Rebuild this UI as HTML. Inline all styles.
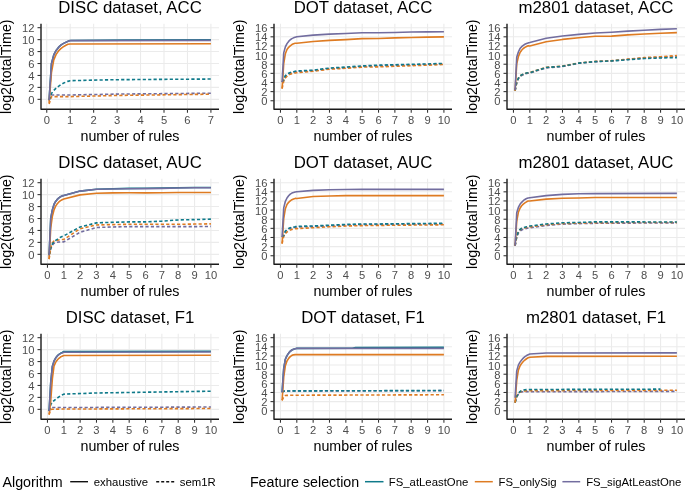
<!DOCTYPE html><html><head><meta charset="utf-8"><style>html,body{margin:0;padding:0;background:#fff;width:685px;height:490px;overflow:hidden}svg{display:block;will-change:transform}text{font-family:"Liberation Sans", sans-serif}</style></head><body>
<svg width="685" height="490" viewBox="0 0 685 490">
<rect width="685" height="490" fill="#fff"/>
<g>
<line x1="46.75" y1="23.8" x2="46.75" y2="109.2" stroke="#ebebeb" stroke-width="1.07"/>
<line x1="70.2" y1="23.8" x2="70.2" y2="109.2" stroke="#ebebeb" stroke-width="1.07"/>
<line x1="93.65" y1="23.8" x2="93.65" y2="109.2" stroke="#ebebeb" stroke-width="1.07"/>
<line x1="117.1" y1="23.8" x2="117.1" y2="109.2" stroke="#ebebeb" stroke-width="1.07"/>
<line x1="140.55" y1="23.8" x2="140.55" y2="109.2" stroke="#ebebeb" stroke-width="1.07"/>
<line x1="164.01" y1="23.8" x2="164.01" y2="109.2" stroke="#ebebeb" stroke-width="1.07"/>
<line x1="187.46" y1="23.8" x2="187.46" y2="109.2" stroke="#ebebeb" stroke-width="1.07"/>
<line x1="210.91" y1="23.8" x2="210.91" y2="109.2" stroke="#ebebeb" stroke-width="1.07"/>
<line x1="41" y1="99.35" x2="219" y2="99.35" stroke="#ebebeb" stroke-width="1.07"/>
<line x1="41" y1="87.4" x2="219" y2="87.4" stroke="#ebebeb" stroke-width="1.07"/>
<line x1="41" y1="75.46" x2="219" y2="75.46" stroke="#ebebeb" stroke-width="1.07"/>
<line x1="41" y1="63.51" x2="219" y2="63.51" stroke="#ebebeb" stroke-width="1.07"/>
<line x1="41" y1="51.57" x2="219" y2="51.57" stroke="#ebebeb" stroke-width="1.07"/>
<line x1="41" y1="39.63" x2="219" y2="39.63" stroke="#ebebeb" stroke-width="1.07"/>
<line x1="41" y1="27.68" x2="219" y2="27.68" stroke="#ebebeb" stroke-width="1.07"/>
<polyline points="49.09,100.3 51.44,94.99 53.78,94.99 56.13,94.99 58.47,94.99 60.82,94.99 63.16,94.99 65.51,94.99 67.85,94.99 70.2,94.99 117.1,94.09 210.91,93.19" fill="none" stroke="#726d9f" stroke-width="1.6" stroke-linejoin="round" stroke-dasharray="3.2 2.2"/>
<polyline points="49.09,103.94 51.44,96.6 53.78,96.6 56.13,96.6 58.47,96.6 60.82,96.6 63.16,96.6 65.51,96.6 67.85,96.6 70.2,96.6 117.1,95.46 210.91,94.21" fill="none" stroke="#de7b22" stroke-width="1.6" stroke-linejoin="round" stroke-dasharray="3.2 2.2"/>
<polyline points="49.09,99.94 51.44,93.49 53.78,90.44 56.13,88.19 58.47,86.32 60.82,84.72 63.16,83.33 65.51,82.25 67.85,81.37 70.2,80.71 93.65,80.12 117.1,79.7 164.01,79.34 210.91,79.04" fill="none" stroke="#0f7a8a" stroke-width="1.6" stroke-linejoin="round" stroke-dasharray="3.2 2.2"/>
<polyline points="49.09,100.3 51.44,63.79 53.78,54.91 56.13,50.43 58.47,47.39 60.82,45.2 63.16,43.66 65.51,42.41 67.85,41.36 70.2,40.46 124.14,40.1 210.91,39.69" fill="none" stroke="#0f7a8a" stroke-width="1.6" stroke-linejoin="round"/>
<polyline points="49.09,102.93 51.44,72.63 53.78,59.84 56.13,54.39 58.47,51.05 60.82,48.64 63.16,46.88 65.51,45.48 67.85,44.33 70.2,43.99 210.91,43.81" fill="none" stroke="#de7b22" stroke-width="1.6" stroke-linejoin="round"/>
<polyline points="49.09,100.3 51.44,63.79 53.78,54.91 56.13,50.43 58.47,47.39 60.82,45.2 63.16,43.66 65.51,42.4 67.85,41.37 70.2,40.58 210.91,40.4" fill="none" stroke="#726d9f" stroke-width="1.6" stroke-linejoin="round"/>
<path d="M41 23.8V109.2H219" fill="none" stroke="#1a1a1a" stroke-width="1.4" stroke-linejoin="round" stroke-linecap="butt"/>
<line x1="46.75" y1="109.2" x2="46.75" y2="112.7" stroke="#333" stroke-width="1.07"/>
<text x="46.75" y="124.2" font-size="11.2" fill="#4d4d4d" text-anchor="middle">0</text>
<line x1="70.2" y1="109.2" x2="70.2" y2="112.7" stroke="#333" stroke-width="1.07"/>
<text x="70.2" y="124.2" font-size="11.2" fill="#4d4d4d" text-anchor="middle">1</text>
<line x1="93.65" y1="109.2" x2="93.65" y2="112.7" stroke="#333" stroke-width="1.07"/>
<text x="93.65" y="124.2" font-size="11.2" fill="#4d4d4d" text-anchor="middle">2</text>
<line x1="117.1" y1="109.2" x2="117.1" y2="112.7" stroke="#333" stroke-width="1.07"/>
<text x="117.1" y="124.2" font-size="11.2" fill="#4d4d4d" text-anchor="middle">3</text>
<line x1="140.55" y1="109.2" x2="140.55" y2="112.7" stroke="#333" stroke-width="1.07"/>
<text x="140.55" y="124.2" font-size="11.2" fill="#4d4d4d" text-anchor="middle">4</text>
<line x1="164.01" y1="109.2" x2="164.01" y2="112.7" stroke="#333" stroke-width="1.07"/>
<text x="164.01" y="124.2" font-size="11.2" fill="#4d4d4d" text-anchor="middle">5</text>
<line x1="187.46" y1="109.2" x2="187.46" y2="112.7" stroke="#333" stroke-width="1.07"/>
<text x="187.46" y="124.2" font-size="11.2" fill="#4d4d4d" text-anchor="middle">6</text>
<line x1="210.91" y1="109.2" x2="210.91" y2="112.7" stroke="#333" stroke-width="1.07"/>
<text x="210.91" y="124.2" font-size="11.2" fill="#4d4d4d" text-anchor="middle">7</text>
<line x1="37.5" y1="99.35" x2="41" y2="99.35" stroke="#333" stroke-width="1.07"/>
<text x="34.5" y="103.85" font-size="11.2" fill="#4d4d4d" text-anchor="end">0</text>
<line x1="37.5" y1="87.4" x2="41" y2="87.4" stroke="#333" stroke-width="1.07"/>
<text x="34.5" y="91.9" font-size="11.2" fill="#4d4d4d" text-anchor="end">2</text>
<line x1="37.5" y1="75.46" x2="41" y2="75.46" stroke="#333" stroke-width="1.07"/>
<text x="34.5" y="79.96" font-size="11.2" fill="#4d4d4d" text-anchor="end">4</text>
<line x1="37.5" y1="63.51" x2="41" y2="63.51" stroke="#333" stroke-width="1.07"/>
<text x="34.5" y="68.01" font-size="11.2" fill="#4d4d4d" text-anchor="end">6</text>
<line x1="37.5" y1="51.57" x2="41" y2="51.57" stroke="#333" stroke-width="1.07"/>
<text x="34.5" y="56.07" font-size="11.2" fill="#4d4d4d" text-anchor="end">8</text>
<line x1="37.5" y1="39.63" x2="41" y2="39.63" stroke="#333" stroke-width="1.07"/>
<text x="34.5" y="44.13" font-size="11.2" fill="#4d4d4d" text-anchor="end">10</text>
<line x1="37.5" y1="27.68" x2="41" y2="27.68" stroke="#333" stroke-width="1.07"/>
<text x="34.5" y="32.18" font-size="11.2" fill="#4d4d4d" text-anchor="end">12</text>
<text x="130" y="13.1" font-size="16.8" fill="#000" text-anchor="middle">DISC dataset, ACC</text>
<text x="130" y="141.2" font-size="14.25" fill="#000" text-anchor="middle">number of rules</text>
<text transform="translate(10.5 66.7) rotate(-90)" font-size="14.25" fill="#000" text-anchor="middle">log2(totalTime)</text>
</g>
<g>
<line x1="280.46" y1="23.8" x2="280.46" y2="109.2" stroke="#ebebeb" stroke-width="1.07"/>
<line x1="296.8" y1="23.8" x2="296.8" y2="109.2" stroke="#ebebeb" stroke-width="1.07"/>
<line x1="313.15" y1="23.8" x2="313.15" y2="109.2" stroke="#ebebeb" stroke-width="1.07"/>
<line x1="329.49" y1="23.8" x2="329.49" y2="109.2" stroke="#ebebeb" stroke-width="1.07"/>
<line x1="345.84" y1="23.8" x2="345.84" y2="109.2" stroke="#ebebeb" stroke-width="1.07"/>
<line x1="362.18" y1="23.8" x2="362.18" y2="109.2" stroke="#ebebeb" stroke-width="1.07"/>
<line x1="378.53" y1="23.8" x2="378.53" y2="109.2" stroke="#ebebeb" stroke-width="1.07"/>
<line x1="394.87" y1="23.8" x2="394.87" y2="109.2" stroke="#ebebeb" stroke-width="1.07"/>
<line x1="411.22" y1="23.8" x2="411.22" y2="109.2" stroke="#ebebeb" stroke-width="1.07"/>
<line x1="427.56" y1="23.8" x2="427.56" y2="109.2" stroke="#ebebeb" stroke-width="1.07"/>
<line x1="443.91" y1="23.8" x2="443.91" y2="109.2" stroke="#ebebeb" stroke-width="1.07"/>
<line x1="274" y1="100.75" x2="452" y2="100.75" stroke="#ebebeb" stroke-width="1.07"/>
<line x1="274" y1="91.62" x2="452" y2="91.62" stroke="#ebebeb" stroke-width="1.07"/>
<line x1="274" y1="82.48" x2="452" y2="82.48" stroke="#ebebeb" stroke-width="1.07"/>
<line x1="274" y1="73.35" x2="452" y2="73.35" stroke="#ebebeb" stroke-width="1.07"/>
<line x1="274" y1="64.22" x2="452" y2="64.22" stroke="#ebebeb" stroke-width="1.07"/>
<line x1="274" y1="55.08" x2="452" y2="55.08" stroke="#ebebeb" stroke-width="1.07"/>
<line x1="274" y1="45.95" x2="452" y2="45.95" stroke="#ebebeb" stroke-width="1.07"/>
<line x1="274" y1="36.82" x2="452" y2="36.82" stroke="#ebebeb" stroke-width="1.07"/>
<line x1="274" y1="27.68" x2="452" y2="27.68" stroke="#ebebeb" stroke-width="1.07"/>
<polyline points="282.09,82.16 283.73,80.34 285.36,76.12 286.99,74.67 288.63,73.77 290.26,73.12 291.9,72.61 293.53,72.21 295.17,71.88 296.8,71.61 313.15,70.61 329.49,68.56 345.84,67.64 362.18,66.5 378.53,65.81 394.87,65.36 411.22,64.9 427.56,64.44 443.91,63.85" fill="none" stroke="#726d9f" stroke-width="1.6" stroke-linejoin="round" stroke-dasharray="3.2 2.2"/>
<polyline points="282.09,88.56 283.73,81.14 285.36,78.01 286.99,76.25 288.63,74.97 290.26,74.11 291.9,73.62 293.53,73.29 295.17,73.01 296.8,72.71 313.15,71.3 329.49,69.19 345.84,68.28 362.18,67.09 378.53,66.87 394.87,66.27 411.22,65.72 427.56,65.13 443.91,64.54" fill="none" stroke="#de7b22" stroke-width="1.6" stroke-linejoin="round" stroke-dasharray="3.2 2.2"/>
<polyline points="282.09,82.16 283.73,79.84 285.36,75.66 286.99,74.19 288.63,73.28 290.26,72.61 291.9,72.1 293.53,71.69 295.17,71.31 296.8,70.98 313.15,70.15 329.49,68.05 345.84,67.09 362.18,65.95 378.53,65.13 394.87,64.76 411.22,64.31 427.56,63.94 443.91,63.39" fill="none" stroke="#0f7a8a" stroke-width="1.6" stroke-linejoin="round" stroke-dasharray="3.2 2.2"/>
<polyline points="282.09,88.56 283.73,63.52 285.36,53.73 286.99,49.57 288.63,47.34 290.26,45.83 291.9,44.59 293.53,43.79 295.17,43.24 296.8,43.21 313.15,41.52 329.49,40.38 345.84,39.65 362.18,38.6 378.53,38.51 394.87,37.91 411.22,37.45 427.56,37.09 443.91,36.86" fill="none" stroke="#de7b22" stroke-width="1.6" stroke-linejoin="round"/>
<polyline points="282.09,82.16 283.73,52.85 285.36,46.89 286.99,43.64 288.63,41.42 290.26,39.76 291.9,38.65 293.53,37.86 295.17,37.26 296.8,36.82 313.15,35.13 329.49,34.17 345.84,33.57 362.18,32.75 378.53,32.71 394.87,32.43 411.22,32.07 427.56,31.84 443.91,31.79" fill="none" stroke="#726d9f" stroke-width="1.6" stroke-linejoin="round"/>
<path d="M274 23.8V109.2H452" fill="none" stroke="#1a1a1a" stroke-width="1.4" stroke-linejoin="round" stroke-linecap="butt"/>
<line x1="280.46" y1="109.2" x2="280.46" y2="112.7" stroke="#333" stroke-width="1.07"/>
<text x="280.46" y="124.2" font-size="11.2" fill="#4d4d4d" text-anchor="middle">0</text>
<line x1="296.8" y1="109.2" x2="296.8" y2="112.7" stroke="#333" stroke-width="1.07"/>
<text x="296.8" y="124.2" font-size="11.2" fill="#4d4d4d" text-anchor="middle">1</text>
<line x1="313.15" y1="109.2" x2="313.15" y2="112.7" stroke="#333" stroke-width="1.07"/>
<text x="313.15" y="124.2" font-size="11.2" fill="#4d4d4d" text-anchor="middle">2</text>
<line x1="329.49" y1="109.2" x2="329.49" y2="112.7" stroke="#333" stroke-width="1.07"/>
<text x="329.49" y="124.2" font-size="11.2" fill="#4d4d4d" text-anchor="middle">3</text>
<line x1="345.84" y1="109.2" x2="345.84" y2="112.7" stroke="#333" stroke-width="1.07"/>
<text x="345.84" y="124.2" font-size="11.2" fill="#4d4d4d" text-anchor="middle">4</text>
<line x1="362.18" y1="109.2" x2="362.18" y2="112.7" stroke="#333" stroke-width="1.07"/>
<text x="362.18" y="124.2" font-size="11.2" fill="#4d4d4d" text-anchor="middle">5</text>
<line x1="378.53" y1="109.2" x2="378.53" y2="112.7" stroke="#333" stroke-width="1.07"/>
<text x="378.53" y="124.2" font-size="11.2" fill="#4d4d4d" text-anchor="middle">6</text>
<line x1="394.87" y1="109.2" x2="394.87" y2="112.7" stroke="#333" stroke-width="1.07"/>
<text x="394.87" y="124.2" font-size="11.2" fill="#4d4d4d" text-anchor="middle">7</text>
<line x1="411.22" y1="109.2" x2="411.22" y2="112.7" stroke="#333" stroke-width="1.07"/>
<text x="411.22" y="124.2" font-size="11.2" fill="#4d4d4d" text-anchor="middle">8</text>
<line x1="427.56" y1="109.2" x2="427.56" y2="112.7" stroke="#333" stroke-width="1.07"/>
<text x="427.56" y="124.2" font-size="11.2" fill="#4d4d4d" text-anchor="middle">9</text>
<line x1="443.91" y1="109.2" x2="443.91" y2="112.7" stroke="#333" stroke-width="1.07"/>
<text x="443.91" y="124.2" font-size="11.2" fill="#4d4d4d" text-anchor="middle">10</text>
<line x1="270.5" y1="100.75" x2="274" y2="100.75" stroke="#333" stroke-width="1.07"/>
<text x="267.5" y="105.25" font-size="11.2" fill="#4d4d4d" text-anchor="end">0</text>
<line x1="270.5" y1="91.62" x2="274" y2="91.62" stroke="#333" stroke-width="1.07"/>
<text x="267.5" y="96.12" font-size="11.2" fill="#4d4d4d" text-anchor="end">2</text>
<line x1="270.5" y1="82.48" x2="274" y2="82.48" stroke="#333" stroke-width="1.07"/>
<text x="267.5" y="86.98" font-size="11.2" fill="#4d4d4d" text-anchor="end">4</text>
<line x1="270.5" y1="73.35" x2="274" y2="73.35" stroke="#333" stroke-width="1.07"/>
<text x="267.5" y="77.85" font-size="11.2" fill="#4d4d4d" text-anchor="end">6</text>
<line x1="270.5" y1="64.22" x2="274" y2="64.22" stroke="#333" stroke-width="1.07"/>
<text x="267.5" y="68.72" font-size="11.2" fill="#4d4d4d" text-anchor="end">8</text>
<line x1="270.5" y1="55.08" x2="274" y2="55.08" stroke="#333" stroke-width="1.07"/>
<text x="267.5" y="59.58" font-size="11.2" fill="#4d4d4d" text-anchor="end">10</text>
<line x1="270.5" y1="45.95" x2="274" y2="45.95" stroke="#333" stroke-width="1.07"/>
<text x="267.5" y="50.45" font-size="11.2" fill="#4d4d4d" text-anchor="end">12</text>
<line x1="270.5" y1="36.82" x2="274" y2="36.82" stroke="#333" stroke-width="1.07"/>
<text x="267.5" y="41.32" font-size="11.2" fill="#4d4d4d" text-anchor="end">14</text>
<line x1="270.5" y1="27.68" x2="274" y2="27.68" stroke="#333" stroke-width="1.07"/>
<text x="267.5" y="32.18" font-size="11.2" fill="#4d4d4d" text-anchor="end">16</text>
<text x="363" y="13.1" font-size="16.8" fill="#000" text-anchor="middle">DOT dataset, ACC</text>
<text x="363" y="141.2" font-size="14.25" fill="#000" text-anchor="middle">number of rules</text>
<text transform="translate(243.5 66.7) rotate(-90)" font-size="14.25" fill="#000" text-anchor="middle">log2(totalTime)</text>
</g>
<g>
<line x1="513.46" y1="23.8" x2="513.46" y2="109.2" stroke="#ebebeb" stroke-width="1.07"/>
<line x1="529.8" y1="23.8" x2="529.8" y2="109.2" stroke="#ebebeb" stroke-width="1.07"/>
<line x1="546.15" y1="23.8" x2="546.15" y2="109.2" stroke="#ebebeb" stroke-width="1.07"/>
<line x1="562.49" y1="23.8" x2="562.49" y2="109.2" stroke="#ebebeb" stroke-width="1.07"/>
<line x1="578.84" y1="23.8" x2="578.84" y2="109.2" stroke="#ebebeb" stroke-width="1.07"/>
<line x1="595.18" y1="23.8" x2="595.18" y2="109.2" stroke="#ebebeb" stroke-width="1.07"/>
<line x1="611.53" y1="23.8" x2="611.53" y2="109.2" stroke="#ebebeb" stroke-width="1.07"/>
<line x1="627.87" y1="23.8" x2="627.87" y2="109.2" stroke="#ebebeb" stroke-width="1.07"/>
<line x1="644.22" y1="23.8" x2="644.22" y2="109.2" stroke="#ebebeb" stroke-width="1.07"/>
<line x1="660.56" y1="23.8" x2="660.56" y2="109.2" stroke="#ebebeb" stroke-width="1.07"/>
<line x1="676.91" y1="23.8" x2="676.91" y2="109.2" stroke="#ebebeb" stroke-width="1.07"/>
<line x1="507" y1="100.75" x2="685" y2="100.75" stroke="#ebebeb" stroke-width="1.07"/>
<line x1="507" y1="91.62" x2="685" y2="91.62" stroke="#ebebeb" stroke-width="1.07"/>
<line x1="507" y1="82.48" x2="685" y2="82.48" stroke="#ebebeb" stroke-width="1.07"/>
<line x1="507" y1="73.35" x2="685" y2="73.35" stroke="#ebebeb" stroke-width="1.07"/>
<line x1="507" y1="64.22" x2="685" y2="64.22" stroke="#ebebeb" stroke-width="1.07"/>
<line x1="507" y1="55.08" x2="685" y2="55.08" stroke="#ebebeb" stroke-width="1.07"/>
<line x1="507" y1="45.95" x2="685" y2="45.95" stroke="#ebebeb" stroke-width="1.07"/>
<line x1="507" y1="36.82" x2="685" y2="36.82" stroke="#ebebeb" stroke-width="1.07"/>
<line x1="507" y1="27.68" x2="685" y2="27.68" stroke="#ebebeb" stroke-width="1.07"/>
<polyline points="515.09,90.7 516.73,82.52 518.36,78.71 519.99,76.57 521.63,75.46 523.26,74.72 524.9,74.08 526.53,73.54 528.17,73.25 529.8,73.12 546.15,67.87 562.49,66.5 578.84,63.3 595.18,61.7 611.53,60.93 627.87,59.42 644.22,58.05 660.56,57.37 676.91,56.64" fill="none" stroke="#726d9f" stroke-width="1.6" stroke-linejoin="round" stroke-dasharray="3.2 2.2"/>
<polyline points="515.09,90.7 516.73,82.19 518.36,78.21 519.99,75.97 521.63,74.88 523.26,74.17 524.9,73.57 526.53,73.07 528.17,72.7 529.8,72.44 546.15,67.41 562.49,66.04 578.84,62.94 595.18,61.39 611.53,60.65 627.87,59.1 644.22,57.59 660.56,56.77 676.91,55.63" fill="none" stroke="#de7b22" stroke-width="1.6" stroke-linejoin="round" stroke-dasharray="3.2 2.2"/>
<polyline points="515.09,90.7 516.73,82.19 518.36,78.21 519.99,75.97 521.63,74.88 523.26,74.17 524.9,73.54 526.53,73 528.17,72.78 529.8,72.71 546.15,67.46 562.49,66.27 578.84,63.12 595.18,61.61 611.53,60.88 627.87,59.7 644.22,58.55 660.56,57.96 676.91,57.59" fill="none" stroke="#0f7a8a" stroke-width="1.6" stroke-linejoin="round" stroke-dasharray="3.2 2.2"/>
<polyline points="515.09,90.7 516.73,63.88 518.36,56.73 519.99,52.67 521.63,50.21 523.26,48.49 524.9,47.36 526.53,46.51 528.17,45.67 529.8,45.95 546.15,41.75 562.49,39.42 578.84,37.68 595.18,36.27 611.53,36.13 627.87,34.85 644.22,34.03 660.56,33.21 676.91,32.61" fill="none" stroke="#de7b22" stroke-width="1.6" stroke-linejoin="round"/>
<polyline points="515.09,90.02 516.73,57.27 518.36,52 519.99,48.58 521.63,46.72 523.26,45.34 524.9,44.26 526.53,43.46 528.17,42.88 529.8,42.57 546.15,38.28 562.49,35.95 578.84,34.4 595.18,33.03 611.53,32.25 627.87,31.11 644.22,30.28 660.56,29.33 676.91,28.78" fill="none" stroke="#726d9f" stroke-width="1.6" stroke-linejoin="round"/>
<path d="M507 23.8V109.2H685" fill="none" stroke="#1a1a1a" stroke-width="1.4" stroke-linejoin="round" stroke-linecap="butt"/>
<line x1="513.46" y1="109.2" x2="513.46" y2="112.7" stroke="#333" stroke-width="1.07"/>
<text x="513.46" y="124.2" font-size="11.2" fill="#4d4d4d" text-anchor="middle">0</text>
<line x1="529.8" y1="109.2" x2="529.8" y2="112.7" stroke="#333" stroke-width="1.07"/>
<text x="529.8" y="124.2" font-size="11.2" fill="#4d4d4d" text-anchor="middle">1</text>
<line x1="546.15" y1="109.2" x2="546.15" y2="112.7" stroke="#333" stroke-width="1.07"/>
<text x="546.15" y="124.2" font-size="11.2" fill="#4d4d4d" text-anchor="middle">2</text>
<line x1="562.49" y1="109.2" x2="562.49" y2="112.7" stroke="#333" stroke-width="1.07"/>
<text x="562.49" y="124.2" font-size="11.2" fill="#4d4d4d" text-anchor="middle">3</text>
<line x1="578.84" y1="109.2" x2="578.84" y2="112.7" stroke="#333" stroke-width="1.07"/>
<text x="578.84" y="124.2" font-size="11.2" fill="#4d4d4d" text-anchor="middle">4</text>
<line x1="595.18" y1="109.2" x2="595.18" y2="112.7" stroke="#333" stroke-width="1.07"/>
<text x="595.18" y="124.2" font-size="11.2" fill="#4d4d4d" text-anchor="middle">5</text>
<line x1="611.53" y1="109.2" x2="611.53" y2="112.7" stroke="#333" stroke-width="1.07"/>
<text x="611.53" y="124.2" font-size="11.2" fill="#4d4d4d" text-anchor="middle">6</text>
<line x1="627.87" y1="109.2" x2="627.87" y2="112.7" stroke="#333" stroke-width="1.07"/>
<text x="627.87" y="124.2" font-size="11.2" fill="#4d4d4d" text-anchor="middle">7</text>
<line x1="644.22" y1="109.2" x2="644.22" y2="112.7" stroke="#333" stroke-width="1.07"/>
<text x="644.22" y="124.2" font-size="11.2" fill="#4d4d4d" text-anchor="middle">8</text>
<line x1="660.56" y1="109.2" x2="660.56" y2="112.7" stroke="#333" stroke-width="1.07"/>
<text x="660.56" y="124.2" font-size="11.2" fill="#4d4d4d" text-anchor="middle">9</text>
<line x1="676.91" y1="109.2" x2="676.91" y2="112.7" stroke="#333" stroke-width="1.07"/>
<text x="676.91" y="124.2" font-size="11.2" fill="#4d4d4d" text-anchor="middle">10</text>
<line x1="503.5" y1="100.75" x2="507" y2="100.75" stroke="#333" stroke-width="1.07"/>
<text x="500.5" y="105.25" font-size="11.2" fill="#4d4d4d" text-anchor="end">0</text>
<line x1="503.5" y1="91.62" x2="507" y2="91.62" stroke="#333" stroke-width="1.07"/>
<text x="500.5" y="96.12" font-size="11.2" fill="#4d4d4d" text-anchor="end">2</text>
<line x1="503.5" y1="82.48" x2="507" y2="82.48" stroke="#333" stroke-width="1.07"/>
<text x="500.5" y="86.98" font-size="11.2" fill="#4d4d4d" text-anchor="end">4</text>
<line x1="503.5" y1="73.35" x2="507" y2="73.35" stroke="#333" stroke-width="1.07"/>
<text x="500.5" y="77.85" font-size="11.2" fill="#4d4d4d" text-anchor="end">6</text>
<line x1="503.5" y1="64.22" x2="507" y2="64.22" stroke="#333" stroke-width="1.07"/>
<text x="500.5" y="68.72" font-size="11.2" fill="#4d4d4d" text-anchor="end">8</text>
<line x1="503.5" y1="55.08" x2="507" y2="55.08" stroke="#333" stroke-width="1.07"/>
<text x="500.5" y="59.58" font-size="11.2" fill="#4d4d4d" text-anchor="end">10</text>
<line x1="503.5" y1="45.95" x2="507" y2="45.95" stroke="#333" stroke-width="1.07"/>
<text x="500.5" y="50.45" font-size="11.2" fill="#4d4d4d" text-anchor="end">12</text>
<line x1="503.5" y1="36.82" x2="507" y2="36.82" stroke="#333" stroke-width="1.07"/>
<text x="500.5" y="41.32" font-size="11.2" fill="#4d4d4d" text-anchor="end">14</text>
<line x1="503.5" y1="27.68" x2="507" y2="27.68" stroke="#333" stroke-width="1.07"/>
<text x="500.5" y="32.18" font-size="11.2" fill="#4d4d4d" text-anchor="end">16</text>
<text x="596" y="13.1" font-size="16.8" fill="#000" text-anchor="middle">m2801 dataset, ACC</text>
<text x="596" y="141.2" font-size="14.25" fill="#000" text-anchor="middle">number of rules</text>
<text transform="translate(476.5 66.7) rotate(-90)" font-size="14.25" fill="#000" text-anchor="middle">log2(totalTime)</text>
</g>
<g>
<line x1="47.46" y1="178.8" x2="47.46" y2="264.2" stroke="#ebebeb" stroke-width="1.07"/>
<line x1="63.8" y1="178.8" x2="63.8" y2="264.2" stroke="#ebebeb" stroke-width="1.07"/>
<line x1="80.15" y1="178.8" x2="80.15" y2="264.2" stroke="#ebebeb" stroke-width="1.07"/>
<line x1="96.49" y1="178.8" x2="96.49" y2="264.2" stroke="#ebebeb" stroke-width="1.07"/>
<line x1="112.84" y1="178.8" x2="112.84" y2="264.2" stroke="#ebebeb" stroke-width="1.07"/>
<line x1="129.18" y1="178.8" x2="129.18" y2="264.2" stroke="#ebebeb" stroke-width="1.07"/>
<line x1="145.53" y1="178.8" x2="145.53" y2="264.2" stroke="#ebebeb" stroke-width="1.07"/>
<line x1="161.87" y1="178.8" x2="161.87" y2="264.2" stroke="#ebebeb" stroke-width="1.07"/>
<line x1="178.22" y1="178.8" x2="178.22" y2="264.2" stroke="#ebebeb" stroke-width="1.07"/>
<line x1="194.56" y1="178.8" x2="194.56" y2="264.2" stroke="#ebebeb" stroke-width="1.07"/>
<line x1="210.91" y1="178.8" x2="210.91" y2="264.2" stroke="#ebebeb" stroke-width="1.07"/>
<line x1="41" y1="254.35" x2="219" y2="254.35" stroke="#ebebeb" stroke-width="1.07"/>
<line x1="41" y1="242.4" x2="219" y2="242.4" stroke="#ebebeb" stroke-width="1.07"/>
<line x1="41" y1="230.46" x2="219" y2="230.46" stroke="#ebebeb" stroke-width="1.07"/>
<line x1="41" y1="218.51" x2="219" y2="218.51" stroke="#ebebeb" stroke-width="1.07"/>
<line x1="41" y1="206.57" x2="219" y2="206.57" stroke="#ebebeb" stroke-width="1.07"/>
<line x1="41" y1="194.63" x2="219" y2="194.63" stroke="#ebebeb" stroke-width="1.07"/>
<line x1="41" y1="182.68" x2="219" y2="182.68" stroke="#ebebeb" stroke-width="1.07"/>
<polyline points="49.09,255.18 50.73,248.8 52.36,245.19 53.99,243.34 55.63,242.67 57.26,242.2 58.9,241.95 60.53,241.92 62.17,241.92 63.8,241.92 80.15,232.19 96.49,227.53 112.84,226.93 129.18,226.64 194.56,226.64 210.91,226.4" fill="none" stroke="#726d9f" stroke-width="1.6" stroke-linejoin="round" stroke-dasharray="3.2 2.2"/>
<polyline points="49.09,259.12 50.73,248.01 52.36,242.87 53.99,241.12 55.63,240.53 57.26,240.18 58.9,239.93 60.53,239.69 62.17,239.51 63.8,239.42 80.15,228.73 96.49,224.96 112.84,224.61 129.18,224.31 178.22,224.31 194.56,224.07 210.91,223.83" fill="none" stroke="#de7b22" stroke-width="1.6" stroke-linejoin="round" stroke-dasharray="3.2 2.2"/>
<polyline points="49.09,255.18 50.73,247.85 52.36,243.9 53.99,241.7 55.63,240.36 57.26,239.31 58.9,238.24 60.53,237.24 62.17,236.42 63.8,235.83 80.15,226.93 96.49,222.87 112.84,222.28 129.18,221.92 145.53,221.92 161.87,221.14 178.22,219.95 194.56,219.59 210.91,219.11" fill="none" stroke="#0f7a8a" stroke-width="1.6" stroke-linejoin="round" stroke-dasharray="3.2 2.2"/>
<polyline points="49.09,255.18 50.73,218.51 52.36,209.87 53.99,204.47 55.63,201.48 57.26,199.43 58.9,197.88 60.53,196.72 62.17,195.88 63.8,195.4 80.15,191.1 96.49,189.25 112.84,188.77 129.18,188.41 145.53,188.3 161.87,188.06 178.22,187.7 194.56,187.46 210.91,187.46" fill="none" stroke="#0f7a8a" stroke-width="1.6" stroke-linejoin="round"/>
<polyline points="49.09,259.12 50.73,227.92 52.36,216.38 53.99,210 55.63,206.13 57.26,203.73 58.9,201.98 60.53,200.68 62.17,199.72 63.8,199.1 80.15,194.86 96.49,193.31 112.84,192.83 129.18,192.71 145.53,192.83 161.87,192.71 178.22,192.54 210.91,192.54" fill="none" stroke="#de7b22" stroke-width="1.6" stroke-linejoin="round"/>
<polyline points="49.09,255.18 50.73,218.51 52.36,209.87 53.99,204.47 55.63,201.48 57.26,199.43 58.9,197.88 60.53,196.72 62.17,195.88 63.8,195.4 80.15,191.1 96.49,189.25 112.84,189.01 129.18,188.77 145.53,188.65 161.87,188.41 178.22,188.06 194.56,187.82 210.91,187.82" fill="none" stroke="#726d9f" stroke-width="1.6" stroke-linejoin="round"/>
<path d="M41 178.8V264.2H219" fill="none" stroke="#1a1a1a" stroke-width="1.4" stroke-linejoin="round" stroke-linecap="butt"/>
<line x1="47.46" y1="264.2" x2="47.46" y2="267.7" stroke="#333" stroke-width="1.07"/>
<text x="47.46" y="279.2" font-size="11.2" fill="#4d4d4d" text-anchor="middle">0</text>
<line x1="63.8" y1="264.2" x2="63.8" y2="267.7" stroke="#333" stroke-width="1.07"/>
<text x="63.8" y="279.2" font-size="11.2" fill="#4d4d4d" text-anchor="middle">1</text>
<line x1="80.15" y1="264.2" x2="80.15" y2="267.7" stroke="#333" stroke-width="1.07"/>
<text x="80.15" y="279.2" font-size="11.2" fill="#4d4d4d" text-anchor="middle">2</text>
<line x1="96.49" y1="264.2" x2="96.49" y2="267.7" stroke="#333" stroke-width="1.07"/>
<text x="96.49" y="279.2" font-size="11.2" fill="#4d4d4d" text-anchor="middle">3</text>
<line x1="112.84" y1="264.2" x2="112.84" y2="267.7" stroke="#333" stroke-width="1.07"/>
<text x="112.84" y="279.2" font-size="11.2" fill="#4d4d4d" text-anchor="middle">4</text>
<line x1="129.18" y1="264.2" x2="129.18" y2="267.7" stroke="#333" stroke-width="1.07"/>
<text x="129.18" y="279.2" font-size="11.2" fill="#4d4d4d" text-anchor="middle">5</text>
<line x1="145.53" y1="264.2" x2="145.53" y2="267.7" stroke="#333" stroke-width="1.07"/>
<text x="145.53" y="279.2" font-size="11.2" fill="#4d4d4d" text-anchor="middle">6</text>
<line x1="161.87" y1="264.2" x2="161.87" y2="267.7" stroke="#333" stroke-width="1.07"/>
<text x="161.87" y="279.2" font-size="11.2" fill="#4d4d4d" text-anchor="middle">7</text>
<line x1="178.22" y1="264.2" x2="178.22" y2="267.7" stroke="#333" stroke-width="1.07"/>
<text x="178.22" y="279.2" font-size="11.2" fill="#4d4d4d" text-anchor="middle">8</text>
<line x1="194.56" y1="264.2" x2="194.56" y2="267.7" stroke="#333" stroke-width="1.07"/>
<text x="194.56" y="279.2" font-size="11.2" fill="#4d4d4d" text-anchor="middle">9</text>
<line x1="210.91" y1="264.2" x2="210.91" y2="267.7" stroke="#333" stroke-width="1.07"/>
<text x="210.91" y="279.2" font-size="11.2" fill="#4d4d4d" text-anchor="middle">10</text>
<line x1="37.5" y1="254.35" x2="41" y2="254.35" stroke="#333" stroke-width="1.07"/>
<text x="34.5" y="258.85" font-size="11.2" fill="#4d4d4d" text-anchor="end">0</text>
<line x1="37.5" y1="242.4" x2="41" y2="242.4" stroke="#333" stroke-width="1.07"/>
<text x="34.5" y="246.9" font-size="11.2" fill="#4d4d4d" text-anchor="end">2</text>
<line x1="37.5" y1="230.46" x2="41" y2="230.46" stroke="#333" stroke-width="1.07"/>
<text x="34.5" y="234.96" font-size="11.2" fill="#4d4d4d" text-anchor="end">4</text>
<line x1="37.5" y1="218.51" x2="41" y2="218.51" stroke="#333" stroke-width="1.07"/>
<text x="34.5" y="223.01" font-size="11.2" fill="#4d4d4d" text-anchor="end">6</text>
<line x1="37.5" y1="206.57" x2="41" y2="206.57" stroke="#333" stroke-width="1.07"/>
<text x="34.5" y="211.07" font-size="11.2" fill="#4d4d4d" text-anchor="end">8</text>
<line x1="37.5" y1="194.63" x2="41" y2="194.63" stroke="#333" stroke-width="1.07"/>
<text x="34.5" y="199.13" font-size="11.2" fill="#4d4d4d" text-anchor="end">10</text>
<line x1="37.5" y1="182.68" x2="41" y2="182.68" stroke="#333" stroke-width="1.07"/>
<text x="34.5" y="187.18" font-size="11.2" fill="#4d4d4d" text-anchor="end">12</text>
<text x="130" y="168.1" font-size="16.8" fill="#000" text-anchor="middle">DISC dataset, AUC</text>
<text x="130" y="296.2" font-size="14.25" fill="#000" text-anchor="middle">number of rules</text>
<text transform="translate(10.5 221.7) rotate(-90)" font-size="14.25" fill="#000" text-anchor="middle">log2(totalTime)</text>
</g>
<g>
<line x1="280.46" y1="178.8" x2="280.46" y2="264.2" stroke="#ebebeb" stroke-width="1.07"/>
<line x1="296.8" y1="178.8" x2="296.8" y2="264.2" stroke="#ebebeb" stroke-width="1.07"/>
<line x1="313.15" y1="178.8" x2="313.15" y2="264.2" stroke="#ebebeb" stroke-width="1.07"/>
<line x1="329.49" y1="178.8" x2="329.49" y2="264.2" stroke="#ebebeb" stroke-width="1.07"/>
<line x1="345.84" y1="178.8" x2="345.84" y2="264.2" stroke="#ebebeb" stroke-width="1.07"/>
<line x1="362.18" y1="178.8" x2="362.18" y2="264.2" stroke="#ebebeb" stroke-width="1.07"/>
<line x1="378.53" y1="178.8" x2="378.53" y2="264.2" stroke="#ebebeb" stroke-width="1.07"/>
<line x1="394.87" y1="178.8" x2="394.87" y2="264.2" stroke="#ebebeb" stroke-width="1.07"/>
<line x1="411.22" y1="178.8" x2="411.22" y2="264.2" stroke="#ebebeb" stroke-width="1.07"/>
<line x1="427.56" y1="178.8" x2="427.56" y2="264.2" stroke="#ebebeb" stroke-width="1.07"/>
<line x1="443.91" y1="178.8" x2="443.91" y2="264.2" stroke="#ebebeb" stroke-width="1.07"/>
<line x1="274" y1="255.75" x2="452" y2="255.75" stroke="#ebebeb" stroke-width="1.07"/>
<line x1="274" y1="246.62" x2="452" y2="246.62" stroke="#ebebeb" stroke-width="1.07"/>
<line x1="274" y1="237.48" x2="452" y2="237.48" stroke="#ebebeb" stroke-width="1.07"/>
<line x1="274" y1="228.35" x2="452" y2="228.35" stroke="#ebebeb" stroke-width="1.07"/>
<line x1="274" y1="219.22" x2="452" y2="219.22" stroke="#ebebeb" stroke-width="1.07"/>
<line x1="274" y1="210.08" x2="452" y2="210.08" stroke="#ebebeb" stroke-width="1.07"/>
<line x1="274" y1="200.95" x2="452" y2="200.95" stroke="#ebebeb" stroke-width="1.07"/>
<line x1="274" y1="191.82" x2="452" y2="191.82" stroke="#ebebeb" stroke-width="1.07"/>
<line x1="274" y1="182.68" x2="452" y2="182.68" stroke="#ebebeb" stroke-width="1.07"/>
<polyline points="282.09,237.16 283.73,235.9 285.36,231.55 286.99,229.94 288.63,228.9 290.26,228.27 291.9,227.89 293.53,227.61 295.17,227.31 296.8,226.98 313.15,226.61 329.49,225.84 345.84,225.06 362.18,224.61 443.91,223.87" fill="none" stroke="#726d9f" stroke-width="1.6" stroke-linejoin="round" stroke-dasharray="3.2 2.2"/>
<polyline points="282.09,243.56 283.73,236.24 285.36,233.58 286.99,232.01 288.63,230.79 290.26,229.91 291.9,229.39 293.53,228.98 295.17,228.69 296.8,228.58 313.15,227.71 329.49,226.8 345.84,225.98 362.18,225.61 378.53,225.38 443.91,224.79" fill="none" stroke="#de7b22" stroke-width="1.6" stroke-linejoin="round" stroke-dasharray="3.2 2.2"/>
<polyline points="282.09,237.16 283.73,235.45 285.36,231.09 286.99,229.46 288.63,228.41 290.26,227.77 291.9,227.38 293.53,227.1 295.17,226.76 296.8,226.3 313.15,225.98 329.49,225.15 345.84,224.42 362.18,223.97 378.53,223.97 443.91,223.28" fill="none" stroke="#0f7a8a" stroke-width="1.6" stroke-linejoin="round" stroke-dasharray="3.2 2.2"/>
<polyline points="282.09,243.56 283.73,218.52 285.36,208.73 286.99,204.57 288.63,202.33 290.26,200.85 291.9,199.69 293.53,198.94 295.17,198.42 296.8,198.44 313.15,196.52 329.49,195.97 345.84,195.61 443.91,195.61" fill="none" stroke="#de7b22" stroke-width="1.6" stroke-linejoin="round"/>
<polyline points="282.09,237.16 283.73,207.91 285.36,201.27 286.99,198.01 288.63,195.81 290.26,194.08 291.9,193.11 293.53,192.53 295.17,192.07 296.8,191.72 313.15,190.35 329.49,189.76 345.84,189.53 362.18,189.4 443.91,189.4" fill="none" stroke="#726d9f" stroke-width="1.6" stroke-linejoin="round"/>
<path d="M274 178.8V264.2H452" fill="none" stroke="#1a1a1a" stroke-width="1.4" stroke-linejoin="round" stroke-linecap="butt"/>
<line x1="280.46" y1="264.2" x2="280.46" y2="267.7" stroke="#333" stroke-width="1.07"/>
<text x="280.46" y="279.2" font-size="11.2" fill="#4d4d4d" text-anchor="middle">0</text>
<line x1="296.8" y1="264.2" x2="296.8" y2="267.7" stroke="#333" stroke-width="1.07"/>
<text x="296.8" y="279.2" font-size="11.2" fill="#4d4d4d" text-anchor="middle">1</text>
<line x1="313.15" y1="264.2" x2="313.15" y2="267.7" stroke="#333" stroke-width="1.07"/>
<text x="313.15" y="279.2" font-size="11.2" fill="#4d4d4d" text-anchor="middle">2</text>
<line x1="329.49" y1="264.2" x2="329.49" y2="267.7" stroke="#333" stroke-width="1.07"/>
<text x="329.49" y="279.2" font-size="11.2" fill="#4d4d4d" text-anchor="middle">3</text>
<line x1="345.84" y1="264.2" x2="345.84" y2="267.7" stroke="#333" stroke-width="1.07"/>
<text x="345.84" y="279.2" font-size="11.2" fill="#4d4d4d" text-anchor="middle">4</text>
<line x1="362.18" y1="264.2" x2="362.18" y2="267.7" stroke="#333" stroke-width="1.07"/>
<text x="362.18" y="279.2" font-size="11.2" fill="#4d4d4d" text-anchor="middle">5</text>
<line x1="378.53" y1="264.2" x2="378.53" y2="267.7" stroke="#333" stroke-width="1.07"/>
<text x="378.53" y="279.2" font-size="11.2" fill="#4d4d4d" text-anchor="middle">6</text>
<line x1="394.87" y1="264.2" x2="394.87" y2="267.7" stroke="#333" stroke-width="1.07"/>
<text x="394.87" y="279.2" font-size="11.2" fill="#4d4d4d" text-anchor="middle">7</text>
<line x1="411.22" y1="264.2" x2="411.22" y2="267.7" stroke="#333" stroke-width="1.07"/>
<text x="411.22" y="279.2" font-size="11.2" fill="#4d4d4d" text-anchor="middle">8</text>
<line x1="427.56" y1="264.2" x2="427.56" y2="267.7" stroke="#333" stroke-width="1.07"/>
<text x="427.56" y="279.2" font-size="11.2" fill="#4d4d4d" text-anchor="middle">9</text>
<line x1="443.91" y1="264.2" x2="443.91" y2="267.7" stroke="#333" stroke-width="1.07"/>
<text x="443.91" y="279.2" font-size="11.2" fill="#4d4d4d" text-anchor="middle">10</text>
<line x1="270.5" y1="255.75" x2="274" y2="255.75" stroke="#333" stroke-width="1.07"/>
<text x="267.5" y="260.25" font-size="11.2" fill="#4d4d4d" text-anchor="end">0</text>
<line x1="270.5" y1="246.62" x2="274" y2="246.62" stroke="#333" stroke-width="1.07"/>
<text x="267.5" y="251.12" font-size="11.2" fill="#4d4d4d" text-anchor="end">2</text>
<line x1="270.5" y1="237.48" x2="274" y2="237.48" stroke="#333" stroke-width="1.07"/>
<text x="267.5" y="241.98" font-size="11.2" fill="#4d4d4d" text-anchor="end">4</text>
<line x1="270.5" y1="228.35" x2="274" y2="228.35" stroke="#333" stroke-width="1.07"/>
<text x="267.5" y="232.85" font-size="11.2" fill="#4d4d4d" text-anchor="end">6</text>
<line x1="270.5" y1="219.22" x2="274" y2="219.22" stroke="#333" stroke-width="1.07"/>
<text x="267.5" y="223.72" font-size="11.2" fill="#4d4d4d" text-anchor="end">8</text>
<line x1="270.5" y1="210.08" x2="274" y2="210.08" stroke="#333" stroke-width="1.07"/>
<text x="267.5" y="214.58" font-size="11.2" fill="#4d4d4d" text-anchor="end">10</text>
<line x1="270.5" y1="200.95" x2="274" y2="200.95" stroke="#333" stroke-width="1.07"/>
<text x="267.5" y="205.45" font-size="11.2" fill="#4d4d4d" text-anchor="end">12</text>
<line x1="270.5" y1="191.82" x2="274" y2="191.82" stroke="#333" stroke-width="1.07"/>
<text x="267.5" y="196.32" font-size="11.2" fill="#4d4d4d" text-anchor="end">14</text>
<line x1="270.5" y1="182.68" x2="274" y2="182.68" stroke="#333" stroke-width="1.07"/>
<text x="267.5" y="187.18" font-size="11.2" fill="#4d4d4d" text-anchor="end">16</text>
<text x="363" y="168.1" font-size="16.8" fill="#000" text-anchor="middle">DOT dataset, AUC</text>
<text x="363" y="296.2" font-size="14.25" fill="#000" text-anchor="middle">number of rules</text>
<text transform="translate(243.5 221.7) rotate(-90)" font-size="14.25" fill="#000" text-anchor="middle">log2(totalTime)</text>
</g>
<g>
<line x1="513.46" y1="178.8" x2="513.46" y2="264.2" stroke="#ebebeb" stroke-width="1.07"/>
<line x1="529.8" y1="178.8" x2="529.8" y2="264.2" stroke="#ebebeb" stroke-width="1.07"/>
<line x1="546.15" y1="178.8" x2="546.15" y2="264.2" stroke="#ebebeb" stroke-width="1.07"/>
<line x1="562.49" y1="178.8" x2="562.49" y2="264.2" stroke="#ebebeb" stroke-width="1.07"/>
<line x1="578.84" y1="178.8" x2="578.84" y2="264.2" stroke="#ebebeb" stroke-width="1.07"/>
<line x1="595.18" y1="178.8" x2="595.18" y2="264.2" stroke="#ebebeb" stroke-width="1.07"/>
<line x1="611.53" y1="178.8" x2="611.53" y2="264.2" stroke="#ebebeb" stroke-width="1.07"/>
<line x1="627.87" y1="178.8" x2="627.87" y2="264.2" stroke="#ebebeb" stroke-width="1.07"/>
<line x1="644.22" y1="178.8" x2="644.22" y2="264.2" stroke="#ebebeb" stroke-width="1.07"/>
<line x1="660.56" y1="178.8" x2="660.56" y2="264.2" stroke="#ebebeb" stroke-width="1.07"/>
<line x1="676.91" y1="178.8" x2="676.91" y2="264.2" stroke="#ebebeb" stroke-width="1.07"/>
<line x1="507" y1="255.75" x2="685" y2="255.75" stroke="#ebebeb" stroke-width="1.07"/>
<line x1="507" y1="246.62" x2="685" y2="246.62" stroke="#ebebeb" stroke-width="1.07"/>
<line x1="507" y1="237.48" x2="685" y2="237.48" stroke="#ebebeb" stroke-width="1.07"/>
<line x1="507" y1="228.35" x2="685" y2="228.35" stroke="#ebebeb" stroke-width="1.07"/>
<line x1="507" y1="219.22" x2="685" y2="219.22" stroke="#ebebeb" stroke-width="1.07"/>
<line x1="507" y1="210.08" x2="685" y2="210.08" stroke="#ebebeb" stroke-width="1.07"/>
<line x1="507" y1="200.95" x2="685" y2="200.95" stroke="#ebebeb" stroke-width="1.07"/>
<line x1="507" y1="191.82" x2="685" y2="191.82" stroke="#ebebeb" stroke-width="1.07"/>
<line x1="507" y1="182.68" x2="685" y2="182.68" stroke="#ebebeb" stroke-width="1.07"/>
<polyline points="515.09,245.7 516.73,237.17 518.36,233.06 519.99,231.07 521.63,230.04 523.26,229.35 524.9,228.85 526.53,228.42 528.17,228.08 529.8,227.89 546.15,225.38 562.49,224.19 578.84,223.65 595.18,223.28 676.91,222.87" fill="none" stroke="#726d9f" stroke-width="1.6" stroke-linejoin="round" stroke-dasharray="3.2 2.2"/>
<polyline points="515.09,245.7 516.73,236.3 518.36,231.81 519.99,229.76 521.63,228.61 523.26,228.08 524.9,227.74 526.53,227.44 528.17,227.17 529.8,226.98 546.15,224.7 562.49,223.56 578.84,223.1 595.18,222.64 676.91,222.41" fill="none" stroke="#de7b22" stroke-width="1.6" stroke-linejoin="round" stroke-dasharray="3.2 2.2"/>
<polyline points="515.09,245.7 516.73,236.3 518.36,231.78 519.99,229.54 521.63,228.25 523.26,227.66 524.9,227.26 526.53,226.84 528.17,226.44 529.8,226.07 546.15,223.97 562.49,222.82 578.84,222.46 595.18,221.87 676.91,221.96" fill="none" stroke="#0f7a8a" stroke-width="1.6" stroke-linejoin="round" stroke-dasharray="3.2 2.2"/>
<polyline points="515.09,245.7 516.73,221.24 518.36,212.31 519.99,208.26 521.63,205.79 523.26,204.09 524.9,202.82 526.53,201.83 528.17,200.99 529.8,200.95 546.15,199.12 562.49,198.3 578.84,197.94 595.18,197.57 676.91,197.52" fill="none" stroke="#de7b22" stroke-width="1.6" stroke-linejoin="round"/>
<polyline points="515.09,245.7 516.73,212.69 518.36,207.41 519.99,204.34 521.63,202.36 523.26,200.7 524.9,199.46 526.53,198.54 528.17,198 529.8,197.75 546.15,195.61 562.49,194.42 578.84,193.82 595.18,193.6 676.91,193.41" fill="none" stroke="#726d9f" stroke-width="1.6" stroke-linejoin="round"/>
<path d="M507 178.8V264.2H685" fill="none" stroke="#1a1a1a" stroke-width="1.4" stroke-linejoin="round" stroke-linecap="butt"/>
<line x1="513.46" y1="264.2" x2="513.46" y2="267.7" stroke="#333" stroke-width="1.07"/>
<text x="513.46" y="279.2" font-size="11.2" fill="#4d4d4d" text-anchor="middle">0</text>
<line x1="529.8" y1="264.2" x2="529.8" y2="267.7" stroke="#333" stroke-width="1.07"/>
<text x="529.8" y="279.2" font-size="11.2" fill="#4d4d4d" text-anchor="middle">1</text>
<line x1="546.15" y1="264.2" x2="546.15" y2="267.7" stroke="#333" stroke-width="1.07"/>
<text x="546.15" y="279.2" font-size="11.2" fill="#4d4d4d" text-anchor="middle">2</text>
<line x1="562.49" y1="264.2" x2="562.49" y2="267.7" stroke="#333" stroke-width="1.07"/>
<text x="562.49" y="279.2" font-size="11.2" fill="#4d4d4d" text-anchor="middle">3</text>
<line x1="578.84" y1="264.2" x2="578.84" y2="267.7" stroke="#333" stroke-width="1.07"/>
<text x="578.84" y="279.2" font-size="11.2" fill="#4d4d4d" text-anchor="middle">4</text>
<line x1="595.18" y1="264.2" x2="595.18" y2="267.7" stroke="#333" stroke-width="1.07"/>
<text x="595.18" y="279.2" font-size="11.2" fill="#4d4d4d" text-anchor="middle">5</text>
<line x1="611.53" y1="264.2" x2="611.53" y2="267.7" stroke="#333" stroke-width="1.07"/>
<text x="611.53" y="279.2" font-size="11.2" fill="#4d4d4d" text-anchor="middle">6</text>
<line x1="627.87" y1="264.2" x2="627.87" y2="267.7" stroke="#333" stroke-width="1.07"/>
<text x="627.87" y="279.2" font-size="11.2" fill="#4d4d4d" text-anchor="middle">7</text>
<line x1="644.22" y1="264.2" x2="644.22" y2="267.7" stroke="#333" stroke-width="1.07"/>
<text x="644.22" y="279.2" font-size="11.2" fill="#4d4d4d" text-anchor="middle">8</text>
<line x1="660.56" y1="264.2" x2="660.56" y2="267.7" stroke="#333" stroke-width="1.07"/>
<text x="660.56" y="279.2" font-size="11.2" fill="#4d4d4d" text-anchor="middle">9</text>
<line x1="676.91" y1="264.2" x2="676.91" y2="267.7" stroke="#333" stroke-width="1.07"/>
<text x="676.91" y="279.2" font-size="11.2" fill="#4d4d4d" text-anchor="middle">10</text>
<line x1="503.5" y1="255.75" x2="507" y2="255.75" stroke="#333" stroke-width="1.07"/>
<text x="500.5" y="260.25" font-size="11.2" fill="#4d4d4d" text-anchor="end">0</text>
<line x1="503.5" y1="246.62" x2="507" y2="246.62" stroke="#333" stroke-width="1.07"/>
<text x="500.5" y="251.12" font-size="11.2" fill="#4d4d4d" text-anchor="end">2</text>
<line x1="503.5" y1="237.48" x2="507" y2="237.48" stroke="#333" stroke-width="1.07"/>
<text x="500.5" y="241.98" font-size="11.2" fill="#4d4d4d" text-anchor="end">4</text>
<line x1="503.5" y1="228.35" x2="507" y2="228.35" stroke="#333" stroke-width="1.07"/>
<text x="500.5" y="232.85" font-size="11.2" fill="#4d4d4d" text-anchor="end">6</text>
<line x1="503.5" y1="219.22" x2="507" y2="219.22" stroke="#333" stroke-width="1.07"/>
<text x="500.5" y="223.72" font-size="11.2" fill="#4d4d4d" text-anchor="end">8</text>
<line x1="503.5" y1="210.08" x2="507" y2="210.08" stroke="#333" stroke-width="1.07"/>
<text x="500.5" y="214.58" font-size="11.2" fill="#4d4d4d" text-anchor="end">10</text>
<line x1="503.5" y1="200.95" x2="507" y2="200.95" stroke="#333" stroke-width="1.07"/>
<text x="500.5" y="205.45" font-size="11.2" fill="#4d4d4d" text-anchor="end">12</text>
<line x1="503.5" y1="191.82" x2="507" y2="191.82" stroke="#333" stroke-width="1.07"/>
<text x="500.5" y="196.32" font-size="11.2" fill="#4d4d4d" text-anchor="end">14</text>
<line x1="503.5" y1="182.68" x2="507" y2="182.68" stroke="#333" stroke-width="1.07"/>
<text x="500.5" y="187.18" font-size="11.2" fill="#4d4d4d" text-anchor="end">16</text>
<text x="596" y="168.1" font-size="16.8" fill="#000" text-anchor="middle">m2801 dataset, AUC</text>
<text x="596" y="296.2" font-size="14.25" fill="#000" text-anchor="middle">number of rules</text>
<text transform="translate(476.5 221.7) rotate(-90)" font-size="14.25" fill="#000" text-anchor="middle">log2(totalTime)</text>
</g>
<g>
<line x1="47.46" y1="333.8" x2="47.46" y2="419.2" stroke="#ebebeb" stroke-width="1.07"/>
<line x1="63.8" y1="333.8" x2="63.8" y2="419.2" stroke="#ebebeb" stroke-width="1.07"/>
<line x1="80.15" y1="333.8" x2="80.15" y2="419.2" stroke="#ebebeb" stroke-width="1.07"/>
<line x1="96.49" y1="333.8" x2="96.49" y2="419.2" stroke="#ebebeb" stroke-width="1.07"/>
<line x1="112.84" y1="333.8" x2="112.84" y2="419.2" stroke="#ebebeb" stroke-width="1.07"/>
<line x1="129.18" y1="333.8" x2="129.18" y2="419.2" stroke="#ebebeb" stroke-width="1.07"/>
<line x1="145.53" y1="333.8" x2="145.53" y2="419.2" stroke="#ebebeb" stroke-width="1.07"/>
<line x1="161.87" y1="333.8" x2="161.87" y2="419.2" stroke="#ebebeb" stroke-width="1.07"/>
<line x1="178.22" y1="333.8" x2="178.22" y2="419.2" stroke="#ebebeb" stroke-width="1.07"/>
<line x1="194.56" y1="333.8" x2="194.56" y2="419.2" stroke="#ebebeb" stroke-width="1.07"/>
<line x1="210.91" y1="333.8" x2="210.91" y2="419.2" stroke="#ebebeb" stroke-width="1.07"/>
<line x1="41" y1="409.35" x2="219" y2="409.35" stroke="#ebebeb" stroke-width="1.07"/>
<line x1="41" y1="397.4" x2="219" y2="397.4" stroke="#ebebeb" stroke-width="1.07"/>
<line x1="41" y1="385.46" x2="219" y2="385.46" stroke="#ebebeb" stroke-width="1.07"/>
<line x1="41" y1="373.51" x2="219" y2="373.51" stroke="#ebebeb" stroke-width="1.07"/>
<line x1="41" y1="361.57" x2="219" y2="361.57" stroke="#ebebeb" stroke-width="1.07"/>
<line x1="41" y1="349.63" x2="219" y2="349.63" stroke="#ebebeb" stroke-width="1.07"/>
<line x1="41" y1="337.68" x2="219" y2="337.68" stroke="#ebebeb" stroke-width="1.07"/>
<polyline points="49.09,411.14 50.73,407.55 52.36,407.55 53.99,407.55 55.63,407.55 57.26,407.55 58.9,407.55 60.53,407.55 62.17,407.55 63.8,407.55 210.91,407.02" fill="none" stroke="#726d9f" stroke-width="1.6" stroke-linejoin="round" stroke-dasharray="3.2 2.2"/>
<polyline points="49.09,414.6 50.73,409.41 52.36,409.3 53.99,409.22 55.63,409.15 57.26,409.11 58.9,409.08 60.53,409.06 62.17,409.05 63.8,409.05 210.91,408.51" fill="none" stroke="#de7b22" stroke-width="1.6" stroke-linejoin="round" stroke-dasharray="3.2 2.2"/>
<polyline points="49.09,411.14 50.73,404.68 52.36,402.16 53.99,400.6 55.63,399.23 57.26,398.02 58.9,396.95 60.53,395.93 62.17,394.98 63.8,394.12 96.49,392.98 210.91,391.19" fill="none" stroke="#0f7a8a" stroke-width="1.6" stroke-linejoin="round" stroke-dasharray="3.2 2.2"/>
<polyline points="49.09,411.14 50.73,382.47 52.36,366.43 53.99,361.2 55.63,358.04 57.26,355.9 58.9,354.41 60.53,353.29 62.17,352.45 63.8,351.54 210.91,351.24" fill="none" stroke="#0f7a8a" stroke-width="1.6" stroke-linejoin="round"/>
<polyline points="49.09,414.6 50.73,401.06 52.36,378.93 53.99,366.16 55.63,362.41 57.26,359.95 58.9,358.27 60.53,357.05 62.17,356.14 63.8,355.48 210.91,355.3" fill="none" stroke="#de7b22" stroke-width="1.6" stroke-linejoin="round"/>
<polyline points="49.09,411.14 50.73,382.47 52.36,366.43 53.99,361.2 55.63,358.02 57.26,355.91 58.9,354.58 60.53,353.62 62.17,352.89 63.8,352.31 210.91,352.01" fill="none" stroke="#726d9f" stroke-width="1.6" stroke-linejoin="round"/>
<path d="M41 333.8V419.2H219" fill="none" stroke="#1a1a1a" stroke-width="1.4" stroke-linejoin="round" stroke-linecap="butt"/>
<line x1="47.46" y1="419.2" x2="47.46" y2="422.7" stroke="#333" stroke-width="1.07"/>
<text x="47.46" y="434.2" font-size="11.2" fill="#4d4d4d" text-anchor="middle">0</text>
<line x1="63.8" y1="419.2" x2="63.8" y2="422.7" stroke="#333" stroke-width="1.07"/>
<text x="63.8" y="434.2" font-size="11.2" fill="#4d4d4d" text-anchor="middle">1</text>
<line x1="80.15" y1="419.2" x2="80.15" y2="422.7" stroke="#333" stroke-width="1.07"/>
<text x="80.15" y="434.2" font-size="11.2" fill="#4d4d4d" text-anchor="middle">2</text>
<line x1="96.49" y1="419.2" x2="96.49" y2="422.7" stroke="#333" stroke-width="1.07"/>
<text x="96.49" y="434.2" font-size="11.2" fill="#4d4d4d" text-anchor="middle">3</text>
<line x1="112.84" y1="419.2" x2="112.84" y2="422.7" stroke="#333" stroke-width="1.07"/>
<text x="112.84" y="434.2" font-size="11.2" fill="#4d4d4d" text-anchor="middle">4</text>
<line x1="129.18" y1="419.2" x2="129.18" y2="422.7" stroke="#333" stroke-width="1.07"/>
<text x="129.18" y="434.2" font-size="11.2" fill="#4d4d4d" text-anchor="middle">5</text>
<line x1="145.53" y1="419.2" x2="145.53" y2="422.7" stroke="#333" stroke-width="1.07"/>
<text x="145.53" y="434.2" font-size="11.2" fill="#4d4d4d" text-anchor="middle">6</text>
<line x1="161.87" y1="419.2" x2="161.87" y2="422.7" stroke="#333" stroke-width="1.07"/>
<text x="161.87" y="434.2" font-size="11.2" fill="#4d4d4d" text-anchor="middle">7</text>
<line x1="178.22" y1="419.2" x2="178.22" y2="422.7" stroke="#333" stroke-width="1.07"/>
<text x="178.22" y="434.2" font-size="11.2" fill="#4d4d4d" text-anchor="middle">8</text>
<line x1="194.56" y1="419.2" x2="194.56" y2="422.7" stroke="#333" stroke-width="1.07"/>
<text x="194.56" y="434.2" font-size="11.2" fill="#4d4d4d" text-anchor="middle">9</text>
<line x1="210.91" y1="419.2" x2="210.91" y2="422.7" stroke="#333" stroke-width="1.07"/>
<text x="210.91" y="434.2" font-size="11.2" fill="#4d4d4d" text-anchor="middle">10</text>
<line x1="37.5" y1="409.35" x2="41" y2="409.35" stroke="#333" stroke-width="1.07"/>
<text x="34.5" y="413.85" font-size="11.2" fill="#4d4d4d" text-anchor="end">0</text>
<line x1="37.5" y1="397.4" x2="41" y2="397.4" stroke="#333" stroke-width="1.07"/>
<text x="34.5" y="401.9" font-size="11.2" fill="#4d4d4d" text-anchor="end">2</text>
<line x1="37.5" y1="385.46" x2="41" y2="385.46" stroke="#333" stroke-width="1.07"/>
<text x="34.5" y="389.96" font-size="11.2" fill="#4d4d4d" text-anchor="end">4</text>
<line x1="37.5" y1="373.51" x2="41" y2="373.51" stroke="#333" stroke-width="1.07"/>
<text x="34.5" y="378.01" font-size="11.2" fill="#4d4d4d" text-anchor="end">6</text>
<line x1="37.5" y1="361.57" x2="41" y2="361.57" stroke="#333" stroke-width="1.07"/>
<text x="34.5" y="366.07" font-size="11.2" fill="#4d4d4d" text-anchor="end">8</text>
<line x1="37.5" y1="349.63" x2="41" y2="349.63" stroke="#333" stroke-width="1.07"/>
<text x="34.5" y="354.13" font-size="11.2" fill="#4d4d4d" text-anchor="end">10</text>
<line x1="37.5" y1="337.68" x2="41" y2="337.68" stroke="#333" stroke-width="1.07"/>
<text x="34.5" y="342.18" font-size="11.2" fill="#4d4d4d" text-anchor="end">12</text>
<text x="130" y="323.1" font-size="16.8" fill="#000" text-anchor="middle">DISC dataset, F1</text>
<text x="130" y="451.2" font-size="14.25" fill="#000" text-anchor="middle">number of rules</text>
<text transform="translate(10.5 376.7) rotate(-90)" font-size="14.25" fill="#000" text-anchor="middle">log2(totalTime)</text>
</g>
<g>
<line x1="280.46" y1="333.8" x2="280.46" y2="419.2" stroke="#ebebeb" stroke-width="1.07"/>
<line x1="296.8" y1="333.8" x2="296.8" y2="419.2" stroke="#ebebeb" stroke-width="1.07"/>
<line x1="313.15" y1="333.8" x2="313.15" y2="419.2" stroke="#ebebeb" stroke-width="1.07"/>
<line x1="329.49" y1="333.8" x2="329.49" y2="419.2" stroke="#ebebeb" stroke-width="1.07"/>
<line x1="345.84" y1="333.8" x2="345.84" y2="419.2" stroke="#ebebeb" stroke-width="1.07"/>
<line x1="362.18" y1="333.8" x2="362.18" y2="419.2" stroke="#ebebeb" stroke-width="1.07"/>
<line x1="378.53" y1="333.8" x2="378.53" y2="419.2" stroke="#ebebeb" stroke-width="1.07"/>
<line x1="394.87" y1="333.8" x2="394.87" y2="419.2" stroke="#ebebeb" stroke-width="1.07"/>
<line x1="411.22" y1="333.8" x2="411.22" y2="419.2" stroke="#ebebeb" stroke-width="1.07"/>
<line x1="427.56" y1="333.8" x2="427.56" y2="419.2" stroke="#ebebeb" stroke-width="1.07"/>
<line x1="443.91" y1="333.8" x2="443.91" y2="419.2" stroke="#ebebeb" stroke-width="1.07"/>
<line x1="274" y1="410.75" x2="452" y2="410.75" stroke="#ebebeb" stroke-width="1.07"/>
<line x1="274" y1="401.62" x2="452" y2="401.62" stroke="#ebebeb" stroke-width="1.07"/>
<line x1="274" y1="392.48" x2="452" y2="392.48" stroke="#ebebeb" stroke-width="1.07"/>
<line x1="274" y1="383.35" x2="452" y2="383.35" stroke="#ebebeb" stroke-width="1.07"/>
<line x1="274" y1="374.22" x2="452" y2="374.22" stroke="#ebebeb" stroke-width="1.07"/>
<line x1="274" y1="365.08" x2="452" y2="365.08" stroke="#ebebeb" stroke-width="1.07"/>
<line x1="274" y1="355.95" x2="452" y2="355.95" stroke="#ebebeb" stroke-width="1.07"/>
<line x1="274" y1="346.82" x2="452" y2="346.82" stroke="#ebebeb" stroke-width="1.07"/>
<line x1="274" y1="337.68" x2="452" y2="337.68" stroke="#ebebeb" stroke-width="1.07"/>
<polyline points="282.09,392.39 283.73,391.14 285.36,391.09 286.99,391.05 288.63,391.02 290.26,391 291.9,390.99 293.53,390.98 295.17,390.98 296.8,390.98 443.91,390.66" fill="none" stroke="#726d9f" stroke-width="1.6" stroke-linejoin="round" stroke-dasharray="3.2 2.2"/>
<polyline points="282.09,400.34 283.73,396.96 285.36,395.44 286.99,395.37 288.63,395.32 290.26,395.28 291.9,395.25 293.53,395.24 295.17,395.23 296.8,395.22 443.91,394.77" fill="none" stroke="#de7b22" stroke-width="1.6" stroke-linejoin="round" stroke-dasharray="3.2 2.2"/>
<polyline points="282.09,392.39 283.73,391.14 285.36,391.06 286.99,391 288.63,390.96 290.26,390.93 291.9,390.91 293.53,390.89 295.17,390.89 296.8,390.89 443.91,390.52" fill="none" stroke="#0f7a8a" stroke-width="1.6" stroke-linejoin="round" stroke-dasharray="3.2 2.2"/>
<polyline points="282.09,392.39 283.73,368.54 285.36,359.23 286.99,355.57 288.63,353.1 290.26,351.24 291.9,350.01 293.53,349.18 295.17,348.69 296.8,348.41 352.38,348.32 355.64,347.5 443.91,347.36" fill="none" stroke="#0f7a8a" stroke-width="1.6" stroke-linejoin="round"/>
<polyline points="282.09,400.34 283.73,377.1 285.36,365.69 286.99,360.95 288.63,358.36 290.26,356.65 291.9,355.38 293.53,354.83 295.17,354.65 296.8,354.58 443.91,354.58" fill="none" stroke="#de7b22" stroke-width="1.6" stroke-linejoin="round"/>
<polyline points="282.09,392.39 283.73,368.54 285.36,359.23 286.99,355.57 288.63,353.1 290.26,351.24 291.9,350.01 293.53,349.18 295.17,348.69 296.8,348.41 443.91,348.41" fill="none" stroke="#726d9f" stroke-width="1.6" stroke-linejoin="round"/>
<path d="M274 333.8V419.2H452" fill="none" stroke="#1a1a1a" stroke-width="1.4" stroke-linejoin="round" stroke-linecap="butt"/>
<line x1="280.46" y1="419.2" x2="280.46" y2="422.7" stroke="#333" stroke-width="1.07"/>
<text x="280.46" y="434.2" font-size="11.2" fill="#4d4d4d" text-anchor="middle">0</text>
<line x1="296.8" y1="419.2" x2="296.8" y2="422.7" stroke="#333" stroke-width="1.07"/>
<text x="296.8" y="434.2" font-size="11.2" fill="#4d4d4d" text-anchor="middle">1</text>
<line x1="313.15" y1="419.2" x2="313.15" y2="422.7" stroke="#333" stroke-width="1.07"/>
<text x="313.15" y="434.2" font-size="11.2" fill="#4d4d4d" text-anchor="middle">2</text>
<line x1="329.49" y1="419.2" x2="329.49" y2="422.7" stroke="#333" stroke-width="1.07"/>
<text x="329.49" y="434.2" font-size="11.2" fill="#4d4d4d" text-anchor="middle">3</text>
<line x1="345.84" y1="419.2" x2="345.84" y2="422.7" stroke="#333" stroke-width="1.07"/>
<text x="345.84" y="434.2" font-size="11.2" fill="#4d4d4d" text-anchor="middle">4</text>
<line x1="362.18" y1="419.2" x2="362.18" y2="422.7" stroke="#333" stroke-width="1.07"/>
<text x="362.18" y="434.2" font-size="11.2" fill="#4d4d4d" text-anchor="middle">5</text>
<line x1="378.53" y1="419.2" x2="378.53" y2="422.7" stroke="#333" stroke-width="1.07"/>
<text x="378.53" y="434.2" font-size="11.2" fill="#4d4d4d" text-anchor="middle">6</text>
<line x1="394.87" y1="419.2" x2="394.87" y2="422.7" stroke="#333" stroke-width="1.07"/>
<text x="394.87" y="434.2" font-size="11.2" fill="#4d4d4d" text-anchor="middle">7</text>
<line x1="411.22" y1="419.2" x2="411.22" y2="422.7" stroke="#333" stroke-width="1.07"/>
<text x="411.22" y="434.2" font-size="11.2" fill="#4d4d4d" text-anchor="middle">8</text>
<line x1="427.56" y1="419.2" x2="427.56" y2="422.7" stroke="#333" stroke-width="1.07"/>
<text x="427.56" y="434.2" font-size="11.2" fill="#4d4d4d" text-anchor="middle">9</text>
<line x1="443.91" y1="419.2" x2="443.91" y2="422.7" stroke="#333" stroke-width="1.07"/>
<text x="443.91" y="434.2" font-size="11.2" fill="#4d4d4d" text-anchor="middle">10</text>
<line x1="270.5" y1="410.75" x2="274" y2="410.75" stroke="#333" stroke-width="1.07"/>
<text x="267.5" y="415.25" font-size="11.2" fill="#4d4d4d" text-anchor="end">0</text>
<line x1="270.5" y1="401.62" x2="274" y2="401.62" stroke="#333" stroke-width="1.07"/>
<text x="267.5" y="406.12" font-size="11.2" fill="#4d4d4d" text-anchor="end">2</text>
<line x1="270.5" y1="392.48" x2="274" y2="392.48" stroke="#333" stroke-width="1.07"/>
<text x="267.5" y="396.98" font-size="11.2" fill="#4d4d4d" text-anchor="end">4</text>
<line x1="270.5" y1="383.35" x2="274" y2="383.35" stroke="#333" stroke-width="1.07"/>
<text x="267.5" y="387.85" font-size="11.2" fill="#4d4d4d" text-anchor="end">6</text>
<line x1="270.5" y1="374.22" x2="274" y2="374.22" stroke="#333" stroke-width="1.07"/>
<text x="267.5" y="378.72" font-size="11.2" fill="#4d4d4d" text-anchor="end">8</text>
<line x1="270.5" y1="365.08" x2="274" y2="365.08" stroke="#333" stroke-width="1.07"/>
<text x="267.5" y="369.58" font-size="11.2" fill="#4d4d4d" text-anchor="end">10</text>
<line x1="270.5" y1="355.95" x2="274" y2="355.95" stroke="#333" stroke-width="1.07"/>
<text x="267.5" y="360.45" font-size="11.2" fill="#4d4d4d" text-anchor="end">12</text>
<line x1="270.5" y1="346.82" x2="274" y2="346.82" stroke="#333" stroke-width="1.07"/>
<text x="267.5" y="351.32" font-size="11.2" fill="#4d4d4d" text-anchor="end">14</text>
<line x1="270.5" y1="337.68" x2="274" y2="337.68" stroke="#333" stroke-width="1.07"/>
<text x="267.5" y="342.18" font-size="11.2" fill="#4d4d4d" text-anchor="end">16</text>
<text x="363" y="323.1" font-size="16.8" fill="#000" text-anchor="middle">DOT dataset, F1</text>
<text x="363" y="451.2" font-size="14.25" fill="#000" text-anchor="middle">number of rules</text>
<text transform="translate(243.5 376.7) rotate(-90)" font-size="14.25" fill="#000" text-anchor="middle">log2(totalTime)</text>
</g>
<g>
<line x1="513.46" y1="333.8" x2="513.46" y2="419.2" stroke="#ebebeb" stroke-width="1.07"/>
<line x1="529.8" y1="333.8" x2="529.8" y2="419.2" stroke="#ebebeb" stroke-width="1.07"/>
<line x1="546.15" y1="333.8" x2="546.15" y2="419.2" stroke="#ebebeb" stroke-width="1.07"/>
<line x1="562.49" y1="333.8" x2="562.49" y2="419.2" stroke="#ebebeb" stroke-width="1.07"/>
<line x1="578.84" y1="333.8" x2="578.84" y2="419.2" stroke="#ebebeb" stroke-width="1.07"/>
<line x1="595.18" y1="333.8" x2="595.18" y2="419.2" stroke="#ebebeb" stroke-width="1.07"/>
<line x1="611.53" y1="333.8" x2="611.53" y2="419.2" stroke="#ebebeb" stroke-width="1.07"/>
<line x1="627.87" y1="333.8" x2="627.87" y2="419.2" stroke="#ebebeb" stroke-width="1.07"/>
<line x1="644.22" y1="333.8" x2="644.22" y2="419.2" stroke="#ebebeb" stroke-width="1.07"/>
<line x1="660.56" y1="333.8" x2="660.56" y2="419.2" stroke="#ebebeb" stroke-width="1.07"/>
<line x1="676.91" y1="333.8" x2="676.91" y2="419.2" stroke="#ebebeb" stroke-width="1.07"/>
<line x1="507" y1="410.75" x2="685" y2="410.75" stroke="#ebebeb" stroke-width="1.07"/>
<line x1="507" y1="401.62" x2="685" y2="401.62" stroke="#ebebeb" stroke-width="1.07"/>
<line x1="507" y1="392.48" x2="685" y2="392.48" stroke="#ebebeb" stroke-width="1.07"/>
<line x1="507" y1="383.35" x2="685" y2="383.35" stroke="#ebebeb" stroke-width="1.07"/>
<line x1="507" y1="374.22" x2="685" y2="374.22" stroke="#ebebeb" stroke-width="1.07"/>
<line x1="507" y1="365.08" x2="685" y2="365.08" stroke="#ebebeb" stroke-width="1.07"/>
<line x1="507" y1="355.95" x2="685" y2="355.95" stroke="#ebebeb" stroke-width="1.07"/>
<line x1="507" y1="346.82" x2="685" y2="346.82" stroke="#ebebeb" stroke-width="1.07"/>
<line x1="507" y1="337.68" x2="685" y2="337.68" stroke="#ebebeb" stroke-width="1.07"/>
<polyline points="515.09,401.62 516.73,396.79 518.36,394.2 519.99,392.44 521.63,391.89 523.26,391.7 524.9,391.59 526.53,391.58 528.17,391.64 529.8,391.8 676.91,391.34" fill="none" stroke="#726d9f" stroke-width="1.6" stroke-linejoin="round" stroke-dasharray="3.2 2.2"/>
<polyline points="515.09,402.71 516.73,396.45 518.36,393.22 519.99,391.96 521.63,391.27 523.26,391.02 524.9,390.86 526.53,390.75 528.17,390.68 529.8,390.66 676.91,390.29" fill="none" stroke="#de7b22" stroke-width="1.6" stroke-linejoin="round" stroke-dasharray="3.2 2.2"/>
<polyline points="515.09,402.71 516.73,396.45 518.36,393.29 519.99,391.62 521.63,390.48 523.26,390.03 524.9,389.76 526.53,389.58 528.17,389.52 529.8,389.52 660.56,389.15" fill="none" stroke="#0f7a8a" stroke-width="1.6" stroke-linejoin="round" stroke-dasharray="3.2 2.2"/>
<polyline points="515.09,402.71 516.73,380.42 518.36,370.16 519.99,366 521.63,363.43 523.26,361.53 524.9,359.99 526.53,358.75 528.17,357.71 529.8,357.23 546.15,356.41 676.91,356.27" fill="none" stroke="#de7b22" stroke-width="1.6" stroke-linejoin="round"/>
<polyline points="515.09,397.74 516.73,370.89 518.36,365.1 519.99,362.11 521.63,359.93 523.26,358.1 524.9,356.7 526.53,355.58 528.17,354.71 529.8,354.03 546.15,352.94 676.91,352.84" fill="none" stroke="#726d9f" stroke-width="1.6" stroke-linejoin="round"/>
<path d="M507 333.8V419.2H685" fill="none" stroke="#1a1a1a" stroke-width="1.4" stroke-linejoin="round" stroke-linecap="butt"/>
<line x1="513.46" y1="419.2" x2="513.46" y2="422.7" stroke="#333" stroke-width="1.07"/>
<text x="513.46" y="434.2" font-size="11.2" fill="#4d4d4d" text-anchor="middle">0</text>
<line x1="529.8" y1="419.2" x2="529.8" y2="422.7" stroke="#333" stroke-width="1.07"/>
<text x="529.8" y="434.2" font-size="11.2" fill="#4d4d4d" text-anchor="middle">1</text>
<line x1="546.15" y1="419.2" x2="546.15" y2="422.7" stroke="#333" stroke-width="1.07"/>
<text x="546.15" y="434.2" font-size="11.2" fill="#4d4d4d" text-anchor="middle">2</text>
<line x1="562.49" y1="419.2" x2="562.49" y2="422.7" stroke="#333" stroke-width="1.07"/>
<text x="562.49" y="434.2" font-size="11.2" fill="#4d4d4d" text-anchor="middle">3</text>
<line x1="578.84" y1="419.2" x2="578.84" y2="422.7" stroke="#333" stroke-width="1.07"/>
<text x="578.84" y="434.2" font-size="11.2" fill="#4d4d4d" text-anchor="middle">4</text>
<line x1="595.18" y1="419.2" x2="595.18" y2="422.7" stroke="#333" stroke-width="1.07"/>
<text x="595.18" y="434.2" font-size="11.2" fill="#4d4d4d" text-anchor="middle">5</text>
<line x1="611.53" y1="419.2" x2="611.53" y2="422.7" stroke="#333" stroke-width="1.07"/>
<text x="611.53" y="434.2" font-size="11.2" fill="#4d4d4d" text-anchor="middle">6</text>
<line x1="627.87" y1="419.2" x2="627.87" y2="422.7" stroke="#333" stroke-width="1.07"/>
<text x="627.87" y="434.2" font-size="11.2" fill="#4d4d4d" text-anchor="middle">7</text>
<line x1="644.22" y1="419.2" x2="644.22" y2="422.7" stroke="#333" stroke-width="1.07"/>
<text x="644.22" y="434.2" font-size="11.2" fill="#4d4d4d" text-anchor="middle">8</text>
<line x1="660.56" y1="419.2" x2="660.56" y2="422.7" stroke="#333" stroke-width="1.07"/>
<text x="660.56" y="434.2" font-size="11.2" fill="#4d4d4d" text-anchor="middle">9</text>
<line x1="676.91" y1="419.2" x2="676.91" y2="422.7" stroke="#333" stroke-width="1.07"/>
<text x="676.91" y="434.2" font-size="11.2" fill="#4d4d4d" text-anchor="middle">10</text>
<line x1="503.5" y1="410.75" x2="507" y2="410.75" stroke="#333" stroke-width="1.07"/>
<text x="500.5" y="415.25" font-size="11.2" fill="#4d4d4d" text-anchor="end">0</text>
<line x1="503.5" y1="401.62" x2="507" y2="401.62" stroke="#333" stroke-width="1.07"/>
<text x="500.5" y="406.12" font-size="11.2" fill="#4d4d4d" text-anchor="end">2</text>
<line x1="503.5" y1="392.48" x2="507" y2="392.48" stroke="#333" stroke-width="1.07"/>
<text x="500.5" y="396.98" font-size="11.2" fill="#4d4d4d" text-anchor="end">4</text>
<line x1="503.5" y1="383.35" x2="507" y2="383.35" stroke="#333" stroke-width="1.07"/>
<text x="500.5" y="387.85" font-size="11.2" fill="#4d4d4d" text-anchor="end">6</text>
<line x1="503.5" y1="374.22" x2="507" y2="374.22" stroke="#333" stroke-width="1.07"/>
<text x="500.5" y="378.72" font-size="11.2" fill="#4d4d4d" text-anchor="end">8</text>
<line x1="503.5" y1="365.08" x2="507" y2="365.08" stroke="#333" stroke-width="1.07"/>
<text x="500.5" y="369.58" font-size="11.2" fill="#4d4d4d" text-anchor="end">10</text>
<line x1="503.5" y1="355.95" x2="507" y2="355.95" stroke="#333" stroke-width="1.07"/>
<text x="500.5" y="360.45" font-size="11.2" fill="#4d4d4d" text-anchor="end">12</text>
<line x1="503.5" y1="346.82" x2="507" y2="346.82" stroke="#333" stroke-width="1.07"/>
<text x="500.5" y="351.32" font-size="11.2" fill="#4d4d4d" text-anchor="end">14</text>
<line x1="503.5" y1="337.68" x2="507" y2="337.68" stroke="#333" stroke-width="1.07"/>
<text x="500.5" y="342.18" font-size="11.2" fill="#4d4d4d" text-anchor="end">16</text>
<text x="596" y="323.1" font-size="16.8" fill="#000" text-anchor="middle">m2801 dataset, F1</text>
<text x="596" y="451.2" font-size="14.25" fill="#000" text-anchor="middle">number of rules</text>
<text transform="translate(476.5 376.7) rotate(-90)" font-size="14.25" fill="#000" text-anchor="middle">log2(totalTime)</text>
</g>
<text x="2.5" y="487" font-size="14.25" fill="#000">Algorithm</text>
<line x1="70.2" y1="481.7" x2="88" y2="481.7" stroke="#111" stroke-width="1.4"/>
<text x="93.8" y="485.9" font-size="11.35" fill="#000">exhaustive</text>
<line x1="156.2" y1="481.7" x2="174.3" y2="481.7" stroke="#111" stroke-width="1.4" stroke-dasharray="3 2"/>
<text x="179.8" y="485.9" font-size="11.35" fill="#000">sem1R</text>
<text x="249.9" y="487" font-size="14.25" fill="#000">Feature selection</text>
<line x1="365" y1="481.7" x2="383.5" y2="481.7" stroke="#0f7a8a" stroke-width="1.5"/>
<text x="388.8" y="485.9" font-size="11.35" fill="#000">FS_atLeastOne</text>
<line x1="474.8" y1="481.7" x2="492.8" y2="481.7" stroke="#de7b22" stroke-width="1.5"/>
<text x="498.6" y="485.9" font-size="11.35" fill="#000">FS_onlySig</text>
<line x1="562.4" y1="481.7" x2="580.2" y2="481.7" stroke="#726d9f" stroke-width="1.5"/>
<text x="586.2" y="485.9" font-size="11.35" fill="#000">FS_sigAtLeastOne</text>
</svg></body></html>
